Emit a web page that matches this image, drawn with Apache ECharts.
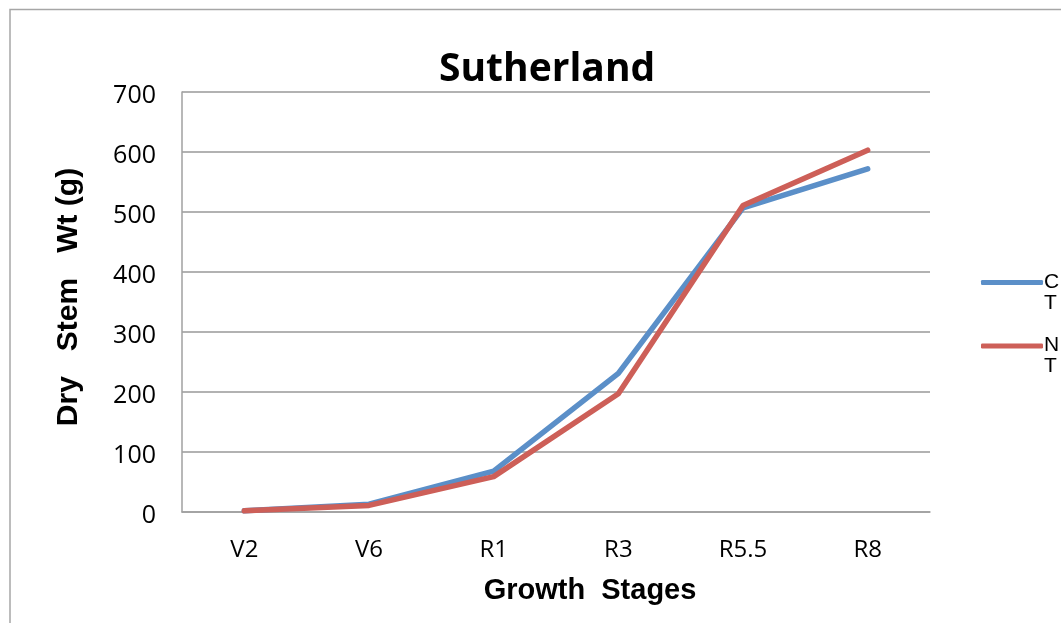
<!DOCTYPE html>
<html><head><meta charset="utf-8">
<script src="https://cdn.jsdelivr.net/npm/echarts@6/dist/echarts.min.js"></script>
<style>html,body{margin:0;padding:0;background:#fff;}#c{width:1061px;height:623px;}</style>
</head><body><div id="c"></div>
<script>
const categories = ['V2', 'V6', 'R1', 'R3', 'R5.5', 'R8'];
const ctValues = [2, 13, 68, 231, 507, 572];
const ntValues = [2, 11, 59, 197, 511, 603];
const yTicks = { min: 0, max: 700, interval: 100 };

const narrow = "'Open Sans', sans-serif";
const arial = "'Liberation Sans', Arial, sans-serif";
const chart = echarts.init(document.getElementById('c'), null, { renderer: 'canvas' });
chart.setOption({
  backgroundColor: '#fff',
  animation: false,
  graphic: [
    { type: 'polyline', shape: { points: [[10, 623], [10, 9.5], [1061, 9.5]] }, style: { stroke: '#a6a6a6', lineWidth: 1.5, fill: null } }
  ],
  title: {
    text: 'Sutherland', left: 434, top: 45,
    textStyle: { fontFamily: narrow, fontWeight: 'bold', fontSize: 39, color: '#000' }
  },
  legend: {
    orient: 'vertical', left: 976, top: 246, itemGap: 1, itemWidth: 62, itemHeight: 5,
    icon: 'roundRect',
    formatter: function (n) { return '{s|}\n' + n.split('').map(function (c) { return '{a|' + c + '}'; }).join('\n'); },
    textStyle: {
      fontFamily: arial, fontSize: 21, color: '#000',
      rich: {
        s: { fontSize: 21, lineHeight: 20, fontFamily: arial },
        a: { fontSize: 21, lineHeight: 21, fontFamily: arial, color: '#000', padding: [0, 0, 0, -4] }
      }
    },
    data: ['CT', 'NT']
  },
  grid: { left: 182, right: 131, top: 92, bottom: 111 },
  xAxis: {
    type: 'category', data: categories, boundaryGap: true,
    axisLine: { lineStyle: { color: '#a0a0a0', width: 1.5 } },
    axisTick: { show: false },
    axisLabel: { fontFamily: narrow, fontSize: 24, color: '#000', margin: 26 },
    name: 'Growth  Stages', nameLocation: 'middle', nameGap: 64,
    nameTextStyle: { fontFamily: arial, fontWeight: 'bold', fontSize: 29, color: '#000', padding: [0, 0, 0, 68] }
  },
  yAxis: {
    type: 'value', min: yTicks.min, max: yTicks.max, interval: yTicks.interval,
    axisLine: { show: true, lineStyle: { color: '#a0a0a0', width: 1.5 } },
    axisTick: { show: false },
    splitLine: { lineStyle: { color: '#999', width: 1.5 } },
    axisLabel: { fontFamily: narrow, fontSize: 25, color: '#000', margin: 26, verticalAlign: 'top', padding: [-9, 0, 0, 0] },
    name: 'Dry   Stem   Wt (g)', nameLocation: 'middle', nameGap: 98, nameRotate: 90,
    nameTextStyle: { fontFamily: arial, fontWeight: 'bold', fontSize: 30, color: '#000', padding: [0, 0, 0, 10] }
  },
  series: [
    { name: 'CT', type: 'line', data: ctValues, symbol: 'none', color: '#5B8FC8', lineStyle: { width: 5.5, color: '#5B8FC8', cap: 'round', join: 'round' } },
    { name: 'NT', type: 'line', data: ntValues, symbol: 'none', color: '#CD5F58', lineStyle: { width: 5.5, color: '#CD5F58', cap: 'round', join: 'round' } }
  ]
});
</script>
</body></html>
